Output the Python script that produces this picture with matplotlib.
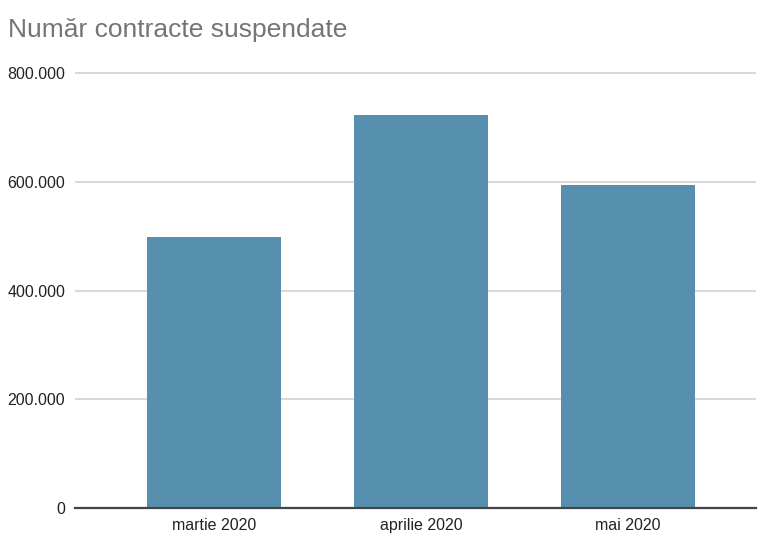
import matplotlib
matplotlib.use("Agg")
import matplotlib.pyplot as plt
from matplotlib.ticker import FuncFormatter

# Data
categories = ["martie 2020", "aprilie 2020", "mai 2020"]
values = [498000, 723000, 594000]
y_ticks = [0, 200000, 400000, 600000, 800000]

plt.rcParams['font.family'] = ['Liberation Sans', 'DejaVu Sans']

W, H = 758, 538
fig = plt.figure(figsize=(W / 100, H / 100), dpi=100)
ymax = 805000
ax_left, ax_right = 75 / W, 756 / W
ax_bottom = (H - 508) / H
top_px = 508 - (508 - 73.3) * ymax / 800000
ax_top = (H - top_px) / H
ax = fig.add_axes([ax_left, ax_bottom, ax_right - ax_left, ax_top - ax_bottom])

x = list(range(len(categories)))
ax.bar(x, values, width=0.65, color="#5790AE", zorder=3)

ax.set_xlim(-0.673, 2.62)
ax.set_ylim(0, ymax)
ax.set_yticks(y_ticks)
ax.yaxis.set_major_formatter(FuncFormatter(lambda v, p: f"{int(v):,}".replace(",", ".")))
ax.set_xticks(x)
ax.set_xticklabels(categories)

ax.grid(axis="y", color="#D9D9D9", linewidth=1.5, zorder=0)
for s in ["top", "right", "left"]:
    ax.spines[s].set_visible(False)
ax.spines["bottom"].set_color("#444444")
ax.spines["bottom"].set_linewidth(1.6)
ax.spines["bottom"].set_zorder(4)

ax.tick_params(axis="both", length=0, labelsize=11.5, colors="#222222")
ax.tick_params(axis="y", pad=7)
ax.tick_params(axis="x", pad=7)

fig.text(8 / W, 1 - 37 / H, "Număr contracte suspendate", fontsize=19,
         color="#757575", ha="left", va="baseline")

fig.savefig("out.png", dpi=100, facecolor="white")
